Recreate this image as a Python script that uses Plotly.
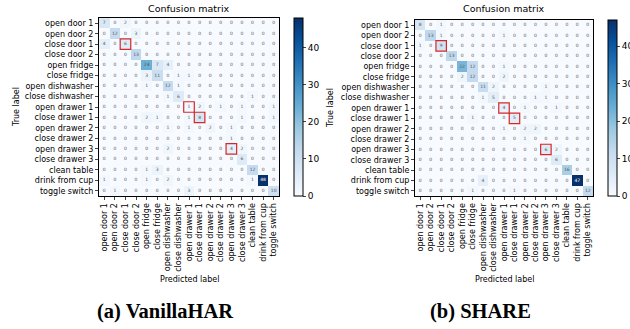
import plotly.graph_objects as go
import plotly.colors as pc

labels = ["open door 1", "open door 2", "close door 1", "close door 2", "open fridge",
          "close fridge", "open dishwasher", "close dishwasher", "open drawer 1",
          "close drawer 1", "open drawer 2", "close drawer 2", "open drawer 3",
          "close drawer 3", "clean table", "drink from cup", "toggle switch"]

# VanillaHAR confusion matrix (rows: true, cols: predicted)
vanilla = [
    [7, 0, 2, 0, 0, 0, 0, 0, 0, 0, 0, 0, 0, 0, 0, 0, 0],
    [0, 12, 0, 3, 0, 0, 0, 0, 0, 0, 0, 0, 0, 0, 0, 0, 0],
    [4, 0, 6, 0, 0, 0, 0, 0, 0, 0, 0, 0, 0, 0, 0, 0, 0],
    [0, 0, 0, 13, 0, 0, 0, 0, 0, 0, 0, 0, 0, 0, 0, 0, 0],
    [0, 0, 0, 0, 24, 7, 4, 0, 0, 0, 0, 0, 0, 0, 0, 0, 0],
    [0, 0, 0, 0, 3, 11, 0, 1, 1, 0, 0, 0, 0, 0, 0, 0, 0],
    [0, 0, 0, 0, 1, 0, 12, 1, 0, 0, 0, 0, 0, 0, 0, 0, 0],
    [0, 0, 0, 0, 0, 0, 1, 6, 0, 0, 0, 0, 0, 0, 1, 0, 0],
    [0, 0, 0, 0, 0, 0, 0, 0, 1, 2, 0, 1, 0, 1, 0, 0, 1],
    [0, 0, 0, 0, 2, 1, 0, 0, 1, 8, 0, 0, 0, 1, 0, 0, 1],
    [0, 0, 0, 0, 0, 0, 1, 0, 1, 0, 2, 0, 1, 0, 0, 0, 0],
    [0, 0, 0, 0, 0, 0, 0, 0, 0, 0, 0, 0, 1, 0, 0, 0, 0],
    [0, 0, 0, 0, 0, 0, 2, 0, 0, 0, 0, 0, 4, 2, 0, 0, 0],
    [0, 0, 0, 0, 0, 0, 0, 0, 0, 0, 0, 0, 0, 6, 0, 0, 0],
    [0, 0, 0, 0, 1, 3, 0, 0, 0, 0, 0, 0, 0, 0, 12, 0, 0],
    [1, 0, 0, 0, 1, 0, 2, 0, 0, 0, 0, 0, 0, 0, 1, 48, 0],
    [0, 1, 0, 0, 0, 0, 0, 0, 3, 0, 0, 0, 0, 0, 0, 0, 10],
]

# SHARE confusion matrix
share = [
    [8, 0, 1, 0, 0, 0, 0, 0, 0, 0, 0, 0, 0, 0, 0, 0, 0],
    [0, 13, 1, 0, 0, 0, 0, 0, 1, 0, 0, 0, 0, 0, 0, 0, 0],
    [1, 0, 9, 0, 0, 0, 0, 0, 0, 0, 0, 0, 0, 0, 0, 0, 0],
    [0, 0, 0, 13, 0, 0, 0, 0, 0, 0, 0, 0, 0, 0, 0, 0, 0],
    [0, 0, 0, 0, 22, 12, 0, 0, 1, 0, 0, 0, 0, 0, 0, 0, 0],
    [0, 0, 0, 0, 2, 12, 0, 0, 2, 0, 0, 0, 0, 0, 0, 0, 0],
    [0, 0, 0, 0, 0, 0, 11, 2, 0, 0, 0, 0, 1, 0, 0, 0, 0],
    [0, 0, 0, 0, 0, 0, 1, 5, 0, 0, 0, 1, 1, 0, 0, 0, 0],
    [0, 0, 0, 0, 0, 0, 0, 0, 4, 0, 1, 0, 0, 1, 0, 0, 0],
    [0, 0, 0, 0, 0, 1, 0, 0, 0, 5, 0, 0, 0, 0, 0, 0, 0],
    [0, 0, 0, 0, 0, 0, 0, 0, 1, 0, 2, 2, 0, 0, 0, 0, 0],
    [0, 0, 0, 0, 0, 0, 0, 0, 0, 0, 1, 0, 0, 0, 0, 0, 0],
    [0, 0, 0, 0, 0, 0, 0, 0, 0, 0, 0, 0, 6, 2, 0, 0, 0],
    [0, 0, 0, 0, 0, 0, 0, 0, 0, 0, 0, 0, 0, 6, 0, 0, 0],
    [0, 0, 0, 0, 0, 0, 0, 0, 0, 0, 0, 0, 0, 0, 16, 0, 0],
    [0, 0, 0, 0, 0, 0, 4, 0, 0, 0, 0, 0, 0, 0, 0, 47, 0],
    [0, 0, 0, 0, 0, 1, 0, 0, 0, 1, 0, 0, 0, 0, 0, 0, 12],
]

highlight = ["close door 1", "open drawer 1", "close drawer 1", "open drawer 3"]

captions = ["<b>(a) VanillaHAR</b>", "<b>(b) SHARE</b>"]
colorbar_ticks = [0, 10, 20, 30, 40]

W, H = 630, 329
def px(x): return x / W
def py(y): return 1 - y / H

blues = pc.sequential.Blues
cs = [[i / (len(blues) - 1), c] for i, c in enumerate(blues)]

fig = go.Figure()

panels = [
    dict(z=vanilla, xa="x", ya="y", x0=99, x1=279, y0=18, y1=196, cbx=294,
         title_x=189, ylab_x=16, cap_x=165),
    dict(z=share, xa="x2", ya="y2", x0=415, x1=593, y0=20, y1=196, cbx=608,
         title_x=504, ylab_x=331, cap_x=480),
]

FONT = "DejaVu Sans"
for i, p in enumerate(panels):
    z = p["z"]
    zmax = max(max(r) for r in z)
    fig.add_trace(go.Heatmap(
        z=z, x=labels, y=labels, xaxis=p["xa"], yaxis=p["ya"],
        colorscale=cs, zmin=0, zmax=zmax, hoverinfo="skip",
        colorbar=dict(
            x=px(p["cbx"]), xanchor="left", xref="paper",
            y=py((p["y0"] + p["y1"]) / 2), yanchor="middle",
            lenmode="pixels", len=p["y1"] - p["y0"],
            thickness=9, xpad=0, ypad=0,
            outlinewidth=1, outlinecolor="black",
            tickvals=colorbar_ticks, ticks="outside", ticklen=3,
            tickfont=dict(size=9, family=FONT, color="black"),
        ),
    ))
    tx, ty, tt, tc = [], [], [], []
    for r, row in enumerate(z):
        for c, v in enumerate(row):
            tx.append(labels[c]); ty.append(labels[r]); tt.append(str(v))
            tc.append("white" if v > zmax / 2 else "#555555")
    fig.add_trace(go.Scatter(
        x=tx, y=ty, text=tt, mode="text", xaxis=p["xa"], yaxis=p["ya"],
        textfont=dict(size=4.5, family=FONT, color=tc), hoverinfo="skip",
        showlegend=False,
    ))
    axis_common = dict(showgrid=False, zeroline=False, showline=True, mirror=True,
                       linecolor="black", linewidth=1, ticks="outside", ticklen=3,
                       tickfont=dict(size=8, family=FONT, color="black"),
                       automargin=False, type="category",
                       categoryorder="array", categoryarray=labels)
    xkey = "xaxis" if i == 0 else "xaxis2"
    ykey = "yaxis" if i == 0 else "yaxis2"
    fig.update_layout(**{
        xkey: dict(domain=[px(p["x0"]), px(p["x1"])], anchor=p["ya"],
                   tickangle=-90, range=[-0.5, len(labels) - 0.5], **axis_common),
        ykey: dict(domain=[py(p["y1"]), py(p["y0"])], anchor=p["xa"],
                   range=[len(labels) - 0.5, -0.5], **axis_common),
    })
    for lab in highlight:
        k = labels.index(lab)
        fig.add_shape(type="rect", xref=p["xa"], yref=p["ya"],
                      x0=k - 0.5, x1=k + 0.5, y0=k - 0.5, y1=k + 0.5,
                      line=dict(color="#d62728", width=1.2))
    ann = dict(xref="paper", yref="paper", showarrow=False, xanchor="center", yanchor="middle")
    fig.add_annotation(text="Confusion matrix", x=px(p["title_x"]), y=py(9),
                       font=dict(size=9.5, family=FONT, color="black"), **ann)
    fig.add_annotation(text="True label", x=px(p["ylab_x"]), y=py((p["y0"] + p["y1"]) / 2),
                       textangle=-90, font=dict(size=8, family=FONT, color="black"), **ann)
    fig.add_annotation(text="Predicted label", x=px((p["x0"] + p["x1"]) / 2), y=py(279),
                       font=dict(size=8, family=FONT, color="black"), **ann)
    fig.add_annotation(text=captions[i], x=px(p["cap_x"]), y=py(311),
                       font=dict(size=20.5, family="Liberation Serif", color="black"), **ann)

fig.update_layout(width=W, height=H, margin=dict(l=0, r=0, t=0, b=0, autoexpand=False),
                  paper_bgcolor="white", plot_bgcolor="white", showlegend=False)

fig.write_html("out.html", config={"displayModeBar": False},
               post_script="document.body.style.margin='0';document.body.style.overflow='hidden';")
